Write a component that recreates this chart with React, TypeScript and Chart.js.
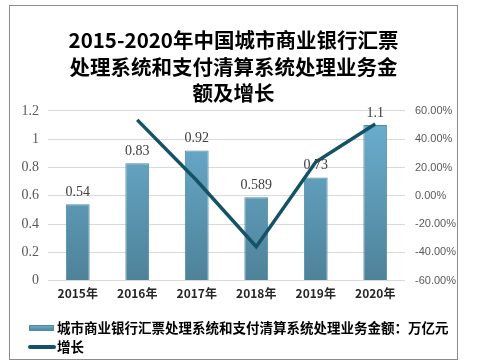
import React, { useEffect, useRef } from "react";
import { Chart, registerables } from "chart.js";

Chart.register(...registerables);

const categories = ["2015年", "2016年", "2017年", "2018年", "2019年", "2020年"];
const amounts = [0.54, 0.83, 0.92, 0.589, 0.73, 1.1];
const amountLabels = ["0.54", "0.83", "0.92", "0.589", "0.73", "1.1"];
const growth = [null, 53.7, 10.8, -36.0, 23.9, 50.7];
const leftTicks = [0, 0.2, 0.4, 0.6, 0.8, 1, 1.2];
const titleLines = [
  "2015-2020年中国城市商业银行汇票",
  "处理系统和支付清算系统处理业务金",
  "额及增长",
];
const barLabel = "城市商业银行汇票处理系统和支付清算系统处理业务金额：万亿元";
const lineLabel = "增长";

const FONT = "'Noto Sans CJK SC', 'Noto Sans', sans-serif";
const NUM_FONT = "'Liberation Serif', 'DejaVu Serif', serif";
const BAR_TOP = "#6cb0d2";
const BAR_BOTTOM = "#4e8299";
const BAR_BORDER = "#4f8aa3";
const LINE_COLOR = "#145266";

const barValueLabels = {
  id: "barValueLabels",
  afterDatasetsDraw(chart: any) {
    const meta = chart.getDatasetMeta(0);
    const ctx = chart.ctx;
    ctx.save();
    ctx.font = `14px ${NUM_FONT}`;
    ctx.fillStyle = "#404040";
    ctx.textAlign = "center";
    ctx.textBaseline = "bottom";
    meta.data.forEach((el: any, i: number) => {
      ctx.fillText(amountLabels[i], el.x, el.y - 5);
    });
    ctx.restore();
  },
};

const customLegend = {
  id: "customLegend",
  afterDraw(chart: any) {
    const ctx = chart.ctx;
    const x0 = 19;
    const rows = [chart.height - 31, chart.height - 12];
    ctx.save();
    const g = ctx.createLinearGradient(0, rows[0] - 3, 0, rows[0] + 3);
    g.addColorStop(0, BAR_TOP);
    g.addColorStop(1, BAR_BOTTOM);
    ctx.fillStyle = g;
    ctx.fillRect(x0, rows[0] - 3, 25, 6);
    ctx.strokeStyle = BAR_BORDER;
    ctx.lineWidth = 1;
    ctx.strokeRect(x0 + 0.5, rows[0] - 2.5, 24, 5);
    ctx.strokeStyle = LINE_COLOR;
    ctx.lineWidth = 4;
    ctx.lineCap = "round";
    ctx.beginPath();
    ctx.moveTo(x0 + 1, rows[1]);
    ctx.lineTo(x0 + 25, rows[1]);
    ctx.stroke();
    ctx.fillStyle = "#000";
    ctx.font = `bold 13.5px ${FONT}`;
    ctx.textAlign = "left";
    ctx.textBaseline = "middle";
    ctx.fillText(barLabel, x0 + 28, rows[0]);
    ctx.fillText(lineLabel, x0 + 28, rows[1]);
    ctx.restore();
  },
};

export default function App() {
  const ref = useRef<HTMLCanvasElement | null>(null);
  useEffect(() => {
    if (!ref.current) return;
    const chart = new Chart(ref.current, {
      type: "bar",
      data: {
        labels: categories,
        datasets: [
          {
            type: "bar",
            label: barLabel,
            data: amounts,
            yAxisID: "y",
            order: 2,
            barPercentage: 0.4,
            categoryPercentage: 1,
            borderWidth: 1,
            borderColor: BAR_BORDER,
            backgroundColor: (c: any) => {
              const { chart } = c;
              const area = chart.chartArea;
              if (!area) return "#5e9fbf";
              const g = chart.ctx.createLinearGradient(0, area.top, 0, area.bottom);
              g.addColorStop(0, BAR_TOP);
              g.addColorStop(1, BAR_BOTTOM);
              return g;
            },
          } as any,
          {
            type: "line",
            label: lineLabel,
            data: growth,
            yAxisID: "y1",
            order: 1,
            borderColor: LINE_COLOR,
            backgroundColor: LINE_COLOR,
            borderWidth: 3.5,
            pointRadius: 0,
            tension: 0,
          } as any,
        ],
      },
      options: {
        animation: false,
        responsive: false,
        maintainAspectRatio: false,
        layout: { padding: { left: 0, right: 0, top: 2, bottom: 52 } },
        plugins: {
          title: {
            display: true,
            text: titleLines,
            color: "#000",
            font: { family: FONT, size: 20.5, weight: "bold", lineHeight: 1.3 },
            padding: { top: 19, bottom: 4 },
          },
          legend: { display: false },
          tooltip: { enabled: false },
        },
        scales: {
          x: {
            grid: { display: false, drawTicks: false },
            border: { display: false },
            ticks: {
              color: "#262626",
              font: { family: FONT, size: 12, weight: "bold" },
              padding: 6,
            },
          },
          y: {
            position: "left",
            min: 0,
            max: 1.2,
            afterBuildTicks: (axis: any) => {
              axis.ticks = leftTicks.map((v) => ({ value: v }));
            },
            grid: { color: "#d9d9d9", drawTicks: false },
            border: { display: false },
            ticks: {
              color: "#595959",
              font: { family: NUM_FONT, size: 14 },
              padding: 9,
              callback: (v: any) => String(Math.round(v * 10) / 10),
            },
            afterFit: (axis: any) => {
              axis.width = 38;
            },
          },
          y1: {
            position: "right",
            min: -60,
            max: 60,
            grid: { display: false, drawTicks: false },
            border: { display: false },
            ticks: {
              stepSize: 20,
              color: "#595959",
              font: { family: "'Liberation Sans', Arial, sans-serif", size: 11 },
              padding: 10,
              callback: (v: any) => Number(v).toFixed(2) + "%",
            },
            afterFit: (axis: any) => {
              axis.width = 52;
            },
          },
        },
      },
      plugins: [barValueLabels, customLegend],
    });
    return () => chart.destroy();
  }, []);

  return (
    <div
      style={{
        position: "absolute",
        left: 9,
        top: 5,
        width: 449,
        height: 355,
        border: "1px solid #8c8c8c",
        boxSizing: "border-box",
        background: "#fff",
      }}
    >
      <canvas ref={ref} width={447} height={353} style={{ display: "block" }} />
    </div>
  );
}
